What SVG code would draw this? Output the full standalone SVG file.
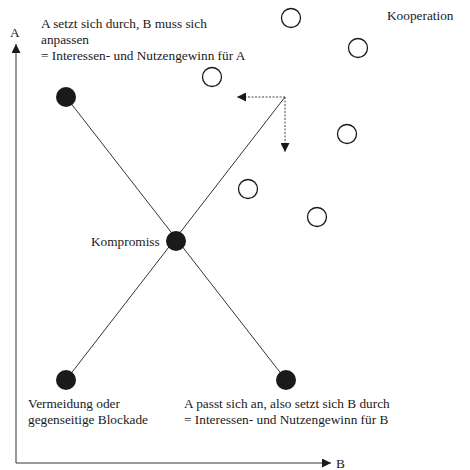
<svg xmlns="http://www.w3.org/2000/svg" width="470" height="470" viewBox="0 0 470 470">
<style>
text{font-family:'Liberation Serif','Times New Roman',Times,serif;font-size:13.3px;fill:#1a1a1a}
.dot{fill:#1a1a1a}
.open{fill:#fff;stroke:#1a1a1a;stroke-width:1.3}
.ln{stroke:#333;stroke-width:1;fill:none}
.ax{stroke:#333;stroke-width:1;fill:none}
.dt{stroke:#444;stroke-width:1;stroke-dasharray:2 1.5;fill:none}
</style>
<defs>
<marker id="ah" viewBox="0 0 10 10" refX="10" refY="5" markerWidth="9" markerHeight="9" markerUnits="userSpaceOnUse" orient="auto"><path d="M0,0 L10,5 L0,10 Z" fill="#1a1a1a"/></marker>
</defs>
<rect width="470" height="470" fill="#fff"/>
<g id="connectors">
<line class="ax" x1="16" y1="463" x2="16" y2="44" marker-end="url(#ah)"/>
<line class="ax" x1="16" y1="463" x2="331" y2="463" marker-end="url(#ah)"/>
<line class="ln" x1="66" y1="97" x2="286" y2="380"/>
<line class="ln" x1="66" y1="380" x2="285" y2="97"/>
<line class="dt" x1="285" y1="97" x2="237" y2="97" marker-end="url(#ah)"/>
<line class="dt" x1="285" y1="97" x2="285" y2="152" marker-end="url(#ah)"/>
</g>
<g id="axis-labels">
<text x="10" y="37">A</text>
<text x="336" y="468">B</text>
</g>
<g id="node-a"><circle class="dot" cx="66" cy="97" r="10"/>
<text x="41" y="28">A setzt sich durch, B muss sich</text>
<text x="41" y="44">anpassen</text>
<text x="41" y="60">= Interessen- und Nutzengewinn für A</text></g>
<g id="node-kompromiss"><circle class="dot" cx="176" cy="241" r="10"/>
<text x="91" y="246">Kompromiss</text></g>
<g id="node-vermeidung"><circle class="dot" cx="66" cy="380" r="10"/>
<text x="28" y="408">Vermeidung oder</text>
<text x="28" y="424">gegenseitige Blockade</text></g>
<g id="node-b"><circle class="dot" cx="286" cy="380" r="10"/>
<text x="184" y="408">A passt sich an, also setzt sich B durch</text>
<text x="184" y="424">= Interessen- und Nutzengewinn für B</text></g>
<g id="kooperation">
<circle class="open" cx="291" cy="18" r="9.5"/>
<circle class="open" cx="358" cy="48" r="9.5"/>
<circle class="open" cx="212" cy="77" r="9.5"/>
<circle class="open" cx="347" cy="134" r="9.5"/>
<circle class="open" cx="248" cy="189" r="9.5"/>
<circle class="open" cx="317" cy="217" r="9.5"/>
<text x="387" y="20">Kooperation</text>
</g>
</svg>
